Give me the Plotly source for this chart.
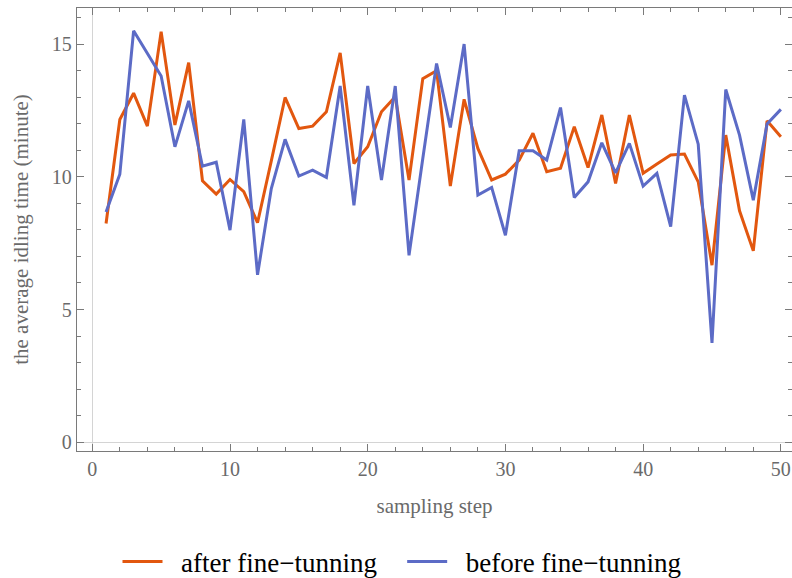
import plotly.graph_objects as go

steps = list(range(1, 51))
after_ft = [8.24, 12.16, 13.15, 11.91, 15.47, 11.95, 14.30, 9.85, 9.35, 9.90,
            9.44, 8.27, 10.60, 12.99, 11.82, 11.91, 12.45, 14.67, 10.50, 11.13,
            12.45, 13.02, 9.88, 13.70, 14.00, 9.65, 12.92, 11.07, 9.88, 10.10,
            10.63, 11.64, 10.19, 10.32, 11.89, 10.35, 12.33, 9.75, 12.33, 10.13,
            10.48, 10.82, 10.86, 9.81, 6.67, 11.57, 8.72, 7.21, 12.11, 11.51]
before_ft = [8.67, 10.10, 15.50, 14.65, 13.80, 11.13, 12.86, 10.40, 10.55, 7.99,
             12.16, 6.31, 9.56, 11.41, 10.03, 10.25, 9.98, 13.42, 8.93, 13.42,
             9.88, 13.42, 7.04, 10.69, 14.27, 11.86, 15.00, 9.31, 9.60, 7.80,
             10.98, 10.98, 10.63, 12.61, 9.22, 9.81, 11.28, 10.15, 11.26, 9.65,
             10.13, 8.12, 13.08, 11.23, 3.74, 13.29, 11.57, 9.12, 11.99, 12.54]

series_names = ["after fine\u2212tunning", "before fine\u2212tunning"]
x_ticks = [0, 10, 20, 30, 40, 50]
y_ticks = [0, 5, 10, 15]

ORANGE = "#E2570F"
BLUE = "#5C6BC6"
FRAME = "#7a7a7a"
LABEL = "#6a6a6a"
SERIF = "Liberation Serif, Times New Roman, serif"
PAD = "\u00a0"

fig = go.Figure()
fig.add_trace(go.Scatter(x=steps, y=after_ft, mode="lines",
                         name=PAD * 2 + series_names[0] + PAD * 3,
                         line=dict(color=ORANGE, width=3)))
fig.add_trace(go.Scatter(x=steps, y=before_ft, mode="lines",
                         name=PAD * 2 + series_names[1],
                         line=dict(color=BLUE, width=3)))

fig.update_layout(
    width=792, height=578,
    margin=dict(l=77, r=0, t=8, b=127, autoexpand=False),
    paper_bgcolor="white", plot_bgcolor="white",
    font=dict(family=SERIF, color=LABEL),
    showlegend=True,
    legend=dict(orientation="h", x=(402 - 77) / 715, xanchor="center",
                y=(451 - 562) / 443, yanchor="middle",
                font=dict(family=SERIF, size=27, color="black"),
                itemwidth=40, tracegroupgap=0),
)

fig.update_xaxes(
    range=[-1.11, 50.81], tickvals=x_ticks, ticktext=[str(v) for v in x_ticks],
    automargin=False,
    showgrid=False, zeroline=True, zerolinecolor="#d4d4d4", zerolinewidth=1,
    showline=True, linecolor=FRAME, linewidth=1.3, mirror="ticks",
    ticks="inside", ticklen=7, tickcolor=FRAME, tickwidth=1,
    minor=dict(dtick=2, tick0=0, ticks="inside", ticklen=4, tickcolor=FRAME, showgrid=False),
    tickfont=dict(family=SERIF, size=20, color=LABEL),
    title=dict(text="sampling step", font=dict(family=SERIF, size=21, color=LABEL), standoff=19),
)
fig.update_yaxes(
    range=[-0.33, 16.36], tickvals=y_ticks, ticktext=[str(v) for v in y_ticks],
    automargin=False,
    showgrid=False, zeroline=True, zerolinecolor="#d4d4d4", zerolinewidth=1,
    showline=True, linecolor=FRAME, linewidth=1.3, mirror="ticks",
    ticks="inside", ticklen=7, tickcolor=FRAME, tickwidth=1,
    minor=dict(dtick=1, tick0=0, ticks="inside", ticklen=4, tickcolor=FRAME, showgrid=False),
    tickfont=dict(family=SERIF, size=20, color=LABEL),
    title=dict(text="the average idling time (minute)", font=dict(family=SERIF, size=21, color=LABEL), standoff=17),
)

fig.write_html("out.html", config={"displayModeBar": False},
               post_script="document.body.style.margin='0';")
